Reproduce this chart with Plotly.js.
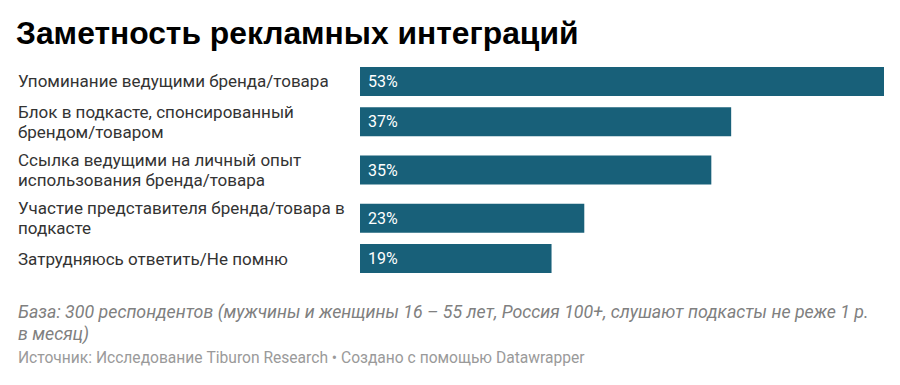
<!DOCTYPE html>
<html>
<head>
<meta charset="utf-8">
<script src="https://cdn.plot.ly/plotly-3.0.1.min.js"></script>
<style>
html,body{margin:0;padding:0;background:#fff;}
#chart{width:900px;height:385px;}
</style>
</head>
<body>
<div id="chart"></div>
<script>
// ---- data ----
const categories = [
  "Упоминание ведущими бренда/товара",
  "Блок в подкасте, спонсированный<br>брендом/товаром",
  "Ссылка ведущими на личный опыт<br>использования бренда/товара",
  "Участие представителя бренда/товара в<br>подкасте",
  "Затрудняюсь ответить/Не помню"
];
const values = [52.8, 37.4, 35.4, 22.6, 19.3];
const valueLabels = ["53%", "37%", "35%", "23%", "19%"];
const titleText = "Заметность рекламных интеграций";
const noteLines = [
  "База: 300 респондентов (мужчины и женщины 16 – 55 лет, Россия 100+, слушают подкасты не реже 1 р.",
  "в месяц)"
];
const sourceText = "Источник: Исследование Tiburon Research • Создано с помощью Datawrapper";

// ---- layout helpers ----
const W = 900, H = 385;
const M = {l: 360, r: 16, t: 65, b: 110};
const plotW = W - M.l - M.r, plotH = H - M.t - M.b;
const BASE = 17.4, LINE = 15.4;           // row height = base + lines*line
const catLines = categories.map(c => c.split("<br>"));
const rowH = catLines.map(l => BASE + l.length * LINE);
const yPos = [];
let acc = 0;
rowH.forEach(h => { yPos.push(acc + h / 2); acc += h; });
const total = acc;
const barW = 29 * total / plotH;
const xMax = Math.max(...values);

function pyToPaper(py) { return (H - M.b - py) / plotH; }
function pxToPaper(px) { return (px - M.l) / plotW; }

const trace = {
  type: "bar",
  orientation: "h",
  x: values,
  y: yPos,
  width: barW,
  marker: {color: "#186079", line: {width: 0}},
  hoverinfo: "none"
};

const annotations = [];
const LBL_LH = 20;
catLines.forEach((ls, i) => {
  ls.forEach((t, j) => {
    annotations.push({
      xref: "paper", yref: "y",
      x: pxToPaper(16), y: yPos[i],
      yshift: -((j - (ls.length - 1) / 2) * LBL_LH),
      xanchor: "left", yanchor: "middle", align: "left",
      text: t, showarrow: false,
      font: {family: "Roboto, sans-serif", size: 17, color: "#333333"}
    });
  });
});

valueLabels.forEach((t, i) => {
  annotations.push({
    xref: "x", yref: "y",
    x: 0, y: yPos[i], xshift: 6,
    xanchor: "left", yanchor: "middle",
    text: t, showarrow: false,
    font: {family: "Roboto, sans-serif", size: 16, color: "#ffffff"}
  });
});

const noteY = [312, 334];
noteLines.forEach((t, j) => {
  annotations.push({
    xref: "paper", yref: "paper",
    x: pxToPaper(16), y: pyToPaper(noteY[j]),
    xanchor: "left", yanchor: "middle", align: "left",
    text: "<i>" + t + "</i>", showarrow: false,
    font: {family: "Roboto, sans-serif", size: 17.8, color: "#808080"}
  });
});
annotations.push({
  xref: "paper", yref: "paper",
  x: pxToPaper(16), y: pyToPaper(357.5),
  xanchor: "left", yanchor: "middle", align: "left",
  text: sourceText, showarrow: false,
  font: {family: "Roboto, sans-serif", size: 15.6, color: "#9a9a9a"}
});

const layout = {
  width: W, height: H,
  margin: M,
  paper_bgcolor: "#ffffff",
  plot_bgcolor: "#ffffff",
  showlegend: false,
  title: {
    text: "<b>" + titleText + "</b>",
    xref: "container", yref: "container",
    x: 16 / W, xanchor: "left",
    y: 1 - 33 / H, yanchor: "middle",
    font: {family: "Liberation Sans, Arial, sans-serif", size: 31.8, color: "#000000"}
  },
  xaxis: {range: [0, xMax], visible: false, fixedrange: true},
  yaxis: {range: [total, 0], visible: false, fixedrange: true},
  annotations: annotations
};

Plotly.newPlot("chart", [trace], layout, {displayModeBar: false, staticPlot: true});
</script>
</body>
</html>
